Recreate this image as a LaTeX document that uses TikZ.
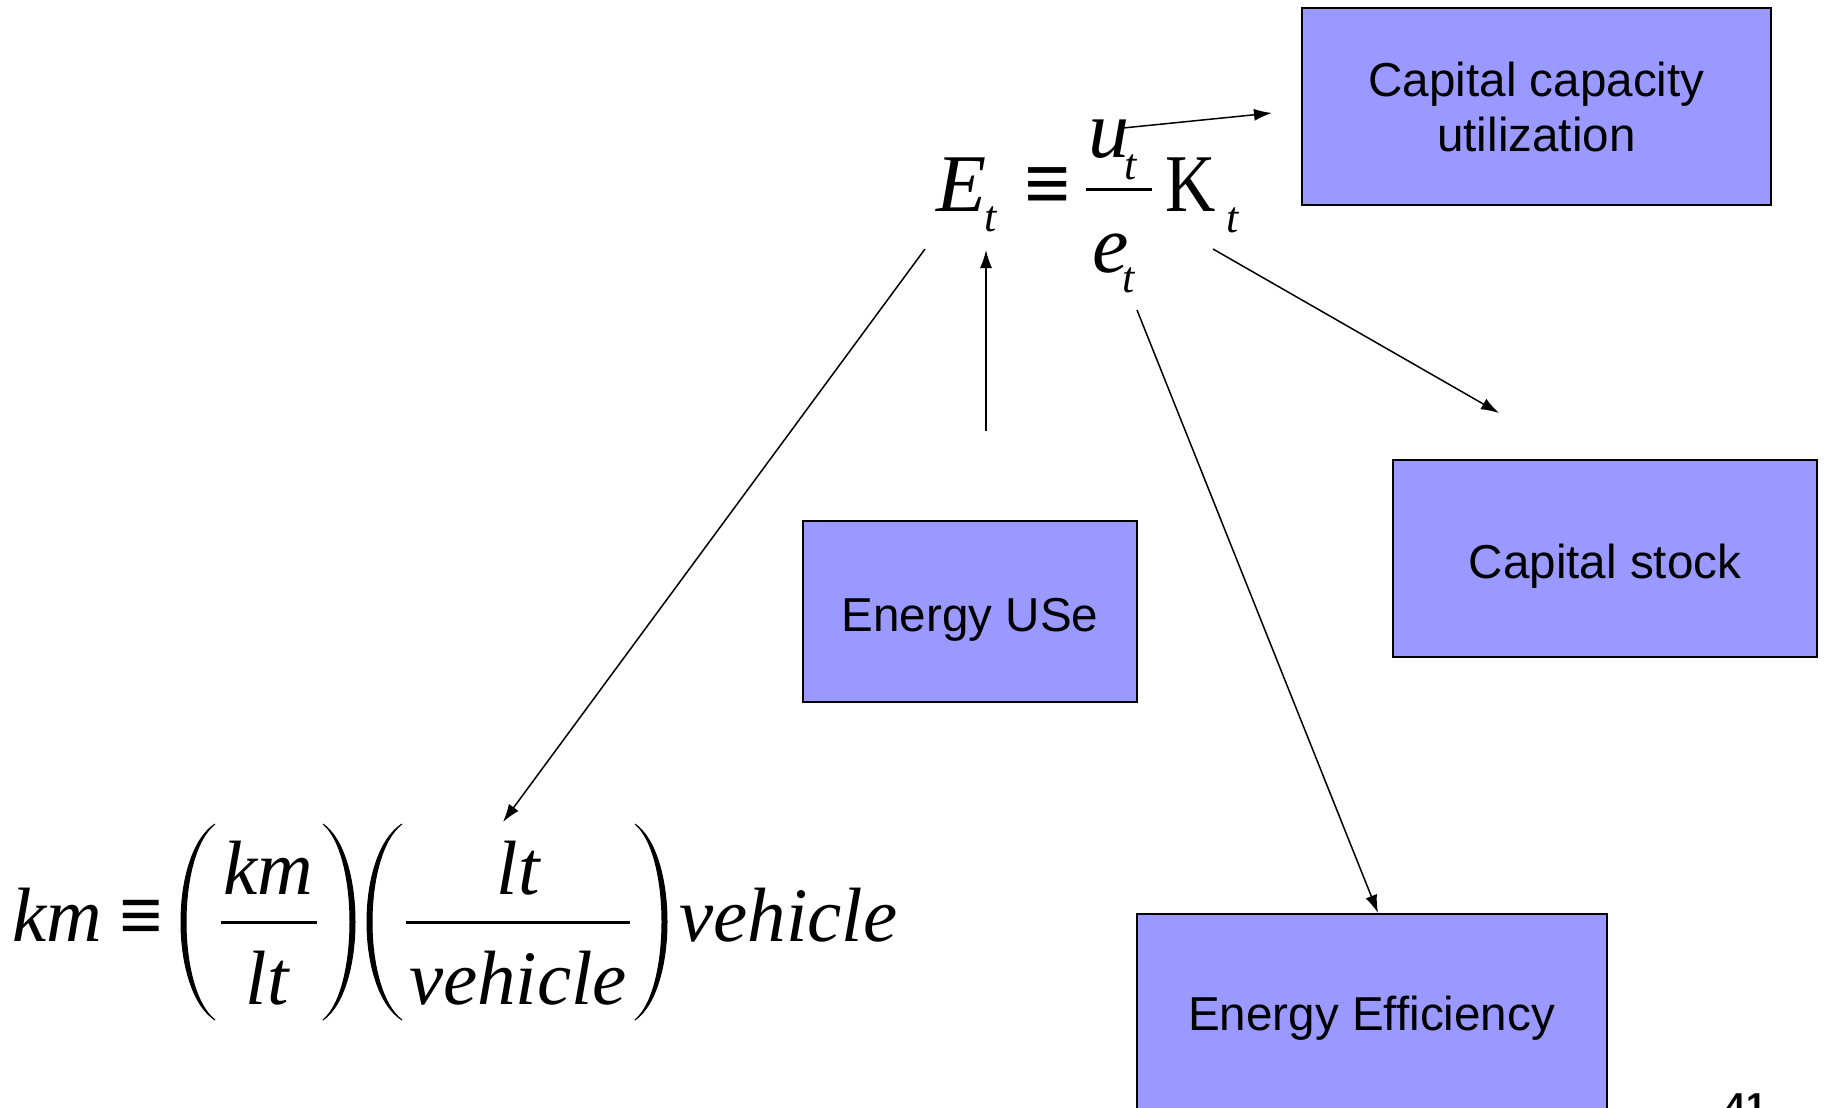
\documentclass[tikz,border=0pt]{standalone}
\usepackage{fontspec}
\setmainfont{Liberation Serif}
\newfontfamily\arialf{Liberation Sans}
\usetikzlibrary{arrows.meta}
\definecolor{boxblue}{RGB}{153,153,255}
\tikzset{
  bluebox/.style={draw=black,line width=1pt,fill=boxblue,inner sep=0pt,align=center,
    font=\arialf\fontsize{23.8}{27.5}\selectfont},
  oneline/.style={text height=20pt,text depth=0pt},
  conn/.style={line width=0.75pt,-{Latex[length=9pt,width=6pt]}},
  bigm/.style={inner sep=0pt,anchor=base west,font=\fontsize{41}{41}\selectfont\itshape},
  subm/.style={inner sep=0pt,anchor=base west,font=\fontsize{22}{22}\selectfont\itshape},
  botm/.style={inner sep=0pt,anchor=base west,font=\fontsize{38.5}{38.5}\selectfont\itshape},
  botc/.style={inner sep=0pt,anchor=base,font=\fontsize{38.5}{38.5}\selectfont\itshape},
  fracbar/.style={line width=1.5pt},
  pics/paren/.style={code={
    \filldraw[line width=0.5pt] (0,0) .. controls ({-#1/0.75},30) and ({-#1/0.75},166) .. (0,196)
      .. controls ({-(#1-5)/0.75},166) and ({-(#1-5)/0.75},30) .. (0,0) -- cycle;}}
}
\begin{document}
\begin{tikzpicture}[x=0.5pt,y=-0.5pt]
\useasboundingbox (0,0) rectangle (1826,1108);
\clip (0,0) rectangle (1826,1108);
% boxes
\node[bluebox,minimum width=234.5pt,minimum height=98.5pt] (ccu) at (1536.5,106.5) {Capital capacity\\utilization};
\node[bluebox,oneline,minimum width=212pt,minimum height=98.5pt] (cs) at (1605,558.5) {Capital stock};
\node[bluebox,oneline,minimum width=167pt,minimum height=90.5pt] (eu) at (970,611.5) {Energy USe};
\node[bluebox,text height=20pt,text depth=7pt,minimum width=235pt,minimum height=103pt] (ee) at (1371.5,1017) {Energy Efficiency};
% top formula
\node[bigm] (E) at (936,211) {E};
\node[subm] (Et) at (984,231) {t};
\node[inner sep=0pt,anchor=base west,font=\fontsize{41}{41}\selectfont\bfseries] (eqv) at (1024,211) {≡};
\node[bigm] (u) at (1088,157) {u};
\node[subm] (ut) at (1124,179) {t};
\coordinate (bar1l) at (1086,189);
\coordinate (bar1r) at (1152,189);
\draw[fracbar] (bar1l) -- (bar1r);
\node[bigm] (e) at (1092,272) {e};
\node[subm] (et) at (1122,292) {t};
\node[inner sep=0pt,anchor=base west,font=\fontsize{41}{41}\selectfont,xscale=0.85] (K) at (1165,211) {K};
\node[subm] (Kt) at (1226,232) {t};
% bottom formula
\node[botm] (km) at (12,941) {km};
\node[inner sep=0pt,anchor=base west,font=\fontsize{38.5}{38.5}\selectfont\bfseries] (eqv2) at (119,941) {≡};
\pic at (215,824) {paren=34};
\pic[xscale=-1] at (323,824) {paren=32};
\pic at (402,824) {paren=35};
\pic[xscale=-1] at (635,824) {paren=32};
\node[botc] (n1) at (268,894) {km};
\coordinate (bar2l) at (221,922);
\coordinate (bar2r) at (317,922);
\draw[fracbar] (bar2l) -- (bar2r);
\node[botc] (d1) at (267,1004) {lt};
\node[botc] (n2) at (518,894) {lt};
\coordinate (bar3l) at (406,922);
\coordinate (bar3r) at (630,922);
\draw[fracbar] (bar3l) -- (bar3r);
\node[botc] (d2) at (518,1004) {vehicle};
\node[botm] (veh) at (679,941) {vehicle};
% connectors
\coordinate (a1s) at (1123,128);
\coordinate (a1e) at (1272,113);
\coordinate (a2s) at (1213,249);
\coordinate (a2e) at (1499,413);
\coordinate (a3s) at (1137,310);
\coordinate (a4s) at (986,431);
\coordinate (a4e) at (986,250);
\coordinate (a5s) at (925,249);
\coordinate (a5e) at (503,822);
\draw[conn] (a1s) -- (a1e);
\draw[conn] (a2s) -- (a2e);
\draw[conn] (a3s) -- ([xshift=3.25pt]ee.north);
\draw[conn] (a4s) -- (a4e);
\draw[conn] (a5s) -- (a5e);
% page number
\node[inner sep=0pt,anchor=base,font=\arialf\bfseries\fontsize{18}{18}\selectfont] (pg) at (1746,1118) {41};
\end{tikzpicture}
\end{document}
